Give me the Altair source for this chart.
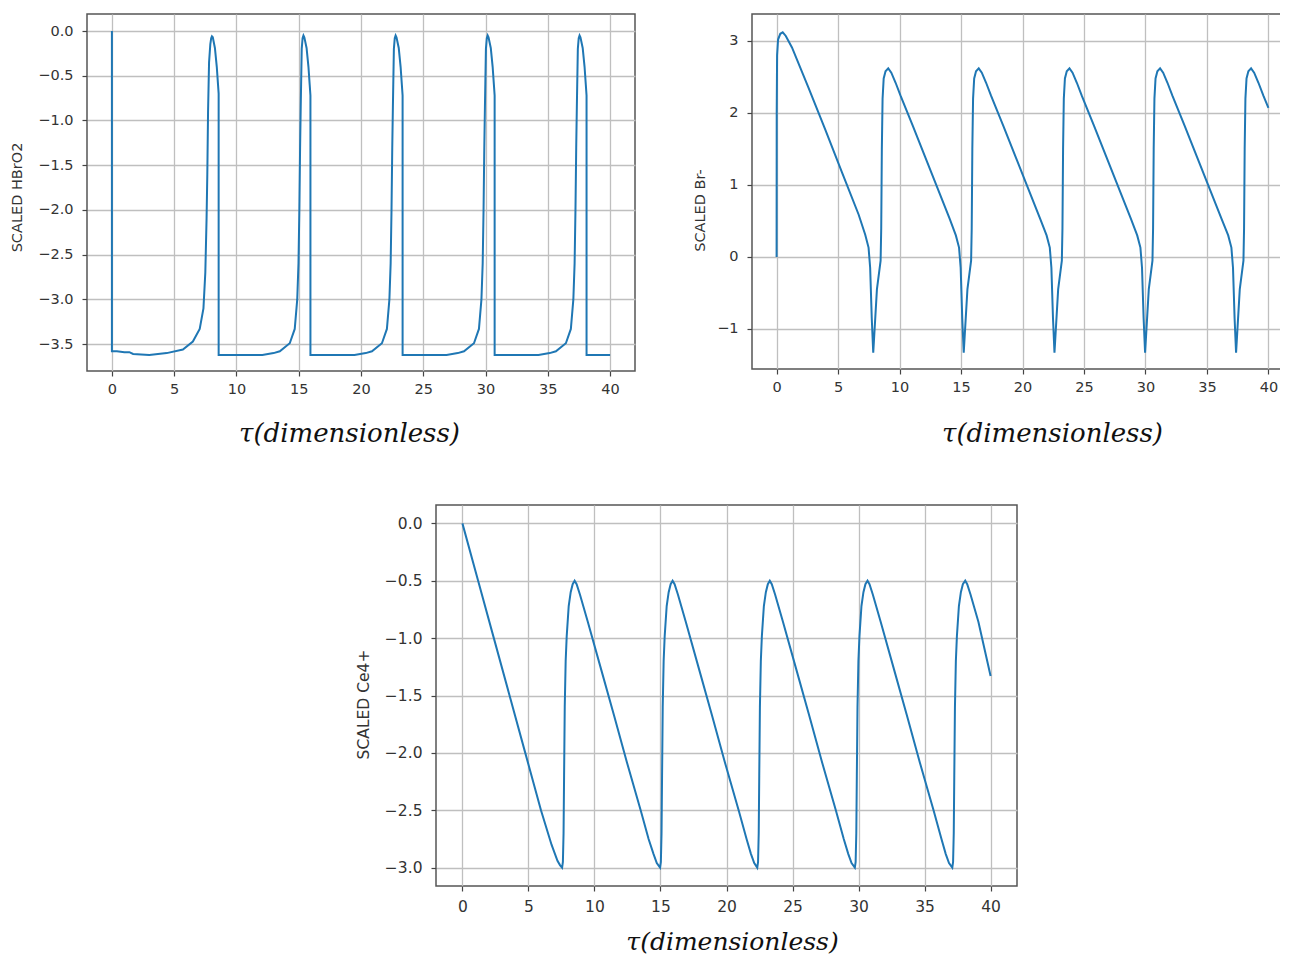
import altair as alt
import pandas as pd

# ---------------- data ----------------
hbro2_t = [
    0.0, 0.0, 0.4, 1.0, 1.4, 1.7, 3.0, 4.4, 5.7, 6.5, 7.05, 7.35, 7.5, 7.6, 7.66, 7.72, 7.8, 7.9, 7.97, 8.03, 8.1, 8.27, 8.42, 8.52, 8.57, 8.57,
    12.08, 12.98, 13.48, 14.28, 14.68, 14.88, 14.98, 15.05, 15.11, 15.16, 15.24, 15.31, 15.38, 15.45, 15.63, 15.78, 15.88, 15.94, 15.94,
    19.48, 20.38, 20.88, 21.68, 22.08, 22.28, 22.38, 22.45, 22.51, 22.56, 22.64, 22.71, 22.78, 22.85, 23.03, 23.18, 23.28, 23.34, 23.34,
    26.87, 27.77, 28.27, 29.07, 29.47, 29.67, 29.77, 29.84, 29.9, 29.95, 30.03, 30.1, 30.17, 30.24, 30.42, 30.57, 30.67, 30.73, 30.73,
    34.25, 35.15, 35.65, 36.45, 36.85, 37.05, 37.15, 37.22, 37.28, 37.33, 37.41, 37.48, 37.55, 37.62, 37.8, 37.95, 38.05, 38.11, 38.11,
    40.0,
]
hbro2_v = [
    0.0, -3.58, -3.58, -3.59, -3.59, -3.61, -3.62, -3.60, -3.56, -3.47, -3.33, -3.1, -2.7, -2.1, -1.6, -0.9, -0.35, -0.15, -0.08, -0.06, -0.07, -0.19, -0.4, -0.6, -0.7, -3.62,
    -3.62, -3.60, -3.58, -3.49, -3.33, -3.0, -2.6, -2.0, -1.3, -0.85, -0.2, -0.08, -0.05, -0.07, -0.19, -0.4, -0.6, -0.72, -3.62,
    -3.62, -3.60, -3.58, -3.49, -3.33, -3.0, -2.6, -2.0, -1.3, -0.85, -0.2, -0.08, -0.05, -0.07, -0.19, -0.4, -0.6, -0.72, -3.62,
    -3.62, -3.60, -3.58, -3.49, -3.33, -3.0, -2.6, -2.0, -1.3, -0.85, -0.2, -0.08, -0.05, -0.07, -0.19, -0.4, -0.6, -0.72, -3.62,
    -3.62, -3.60, -3.58, -3.49, -3.33, -3.0, -2.6, -2.0, -1.3, -0.85, -0.2, -0.08, -0.05, -0.07, -0.19, -0.4, -0.6, -0.72, -3.62,
    -3.62,
]

br_t = [
    0.0, 0.01, 0.04, 0.12, 0.3, 0.5, 0.75, 1.25, 2.6, 3.96, 5.31, 6.67, 7.21, 7.48, 7.61, 7.74, 7.86,
    8.16, 8.46, 8.51, 8.56, 8.62, 8.71, 8.86, 9.08, 9.33, 9.68, 10.08, 11.08, 12.08, 13.08, 14.08, 14.58, 14.84, 14.97, 15.1, 15.22,
    15.52, 15.82, 15.87, 15.92, 15.98, 16.07, 16.22, 16.44, 16.69, 17.04, 17.44, 18.44, 19.44, 20.44, 21.44, 21.96, 22.22, 22.35, 22.48, 22.6,
    22.9, 23.2, 23.25, 23.3, 23.36, 23.45, 23.6, 23.82, 24.07, 24.42, 24.82, 25.82, 26.82, 27.82, 28.82, 29.33, 29.59, 29.72, 29.85, 29.97,
    30.27, 30.57, 30.62, 30.67, 30.73, 30.82, 30.97, 31.19, 31.44, 31.79, 32.19, 33.19, 34.19, 35.19, 36.19, 36.73, 36.99, 37.12, 37.25, 37.37,
    37.67, 37.97, 38.02, 38.07, 38.13, 38.22, 38.37, 38.59, 38.84, 39.19, 39.59, 40.0,
]
br_v = [
    0.0, 2.0, 2.8, 3.02, 3.1, 3.12, 3.07, 2.91, 2.35, 1.77, 1.18, 0.59, 0.31, 0.13, -0.15, -0.85, -1.33,
    -0.45, -0.05, 0.4, 1.5, 2.2, 2.48, 2.58, 2.62, 2.56, 2.42, 2.24, 1.82, 1.39, 0.96, 0.53, 0.3, 0.13, -0.15, -0.85, -1.33,
    -0.45, -0.05, 0.4, 1.5, 2.2, 2.48, 2.58, 2.62, 2.56, 2.42, 2.24, 1.82, 1.39, 0.96, 0.53, 0.3, 0.13, -0.15, -0.85, -1.33,
    -0.45, -0.05, 0.4, 1.5, 2.2, 2.48, 2.58, 2.62, 2.56, 2.42, 2.24, 1.82, 1.39, 0.96, 0.53, 0.3, 0.13, -0.15, -0.85, -1.33,
    -0.45, -0.05, 0.4, 1.5, 2.2, 2.48, 2.58, 2.62, 2.56, 2.42, 2.24, 1.82, 1.39, 0.96, 0.53, 0.3, 0.13, -0.15, -0.85, -1.33,
    -0.45, -0.05, 0.4, 1.5, 2.2, 2.48, 2.58, 2.62, 2.56, 2.42, 2.24, 2.07,
]

ce_t = [
    0.0, 1.19, 2.38, 3.57, 4.76, 5.95, 6.75, 7.2, 7.4, 7.55,
    7.61, 7.66, 7.7, 7.75, 7.82, 7.9, 8.05, 8.2, 8.35, 8.5,
    8.65, 8.9, 9.5, 10.5, 11.5, 12.5, 13.5, 14.1, 14.47, 14.72, 14.97,
    15.03, 15.08, 15.12, 15.17, 15.24, 15.32, 15.47, 15.62, 15.77, 15.92,
    16.07, 16.32, 16.92, 17.92, 18.92, 19.92, 20.92, 21.52, 21.85, 22.1, 22.33,
    22.39, 22.44, 22.48, 22.53, 22.6, 22.68, 22.83, 22.98, 23.13, 23.28,
    23.43, 23.68, 24.28, 25.28, 26.28, 27.28, 28.28, 28.88, 29.22, 29.47, 29.72,
    29.78, 29.83, 29.87, 29.92, 29.99, 30.07, 30.22, 30.37, 30.52, 30.68,
    30.83, 31.08, 31.68, 32.68, 33.68, 34.68, 35.68, 36.28, 36.6, 36.85, 37.1,
    37.16, 37.21, 37.25, 37.3, 37.37, 37.45, 37.6, 37.75, 37.9, 38.08,
    38.23, 38.48, 39.08, 40.0,
]
ce_v = [
    0.0, -0.5, -1.0, -1.5, -2.0, -2.5, -2.8, -2.94, -2.98, -3.0,
    -2.95, -2.7, -2.2, -1.6, -1.2, -0.98, -0.72, -0.6, -0.53, -0.5,
    -0.53, -0.62, -0.86, -1.27, -1.68, -2.1, -2.5, -2.75, -2.88, -2.96, -3.0,
    -2.95, -2.7, -2.2, -1.6, -1.2, -0.98, -0.72, -0.6, -0.53, -0.5,
    -0.53, -0.62, -0.86, -1.27, -1.68, -2.1, -2.5, -2.75, -2.88, -2.96, -3.0,
    -2.95, -2.7, -2.2, -1.6, -1.2, -0.98, -0.72, -0.6, -0.53, -0.5,
    -0.53, -0.62, -0.86, -1.27, -1.68, -2.1, -2.5, -2.75, -2.88, -2.96, -3.0,
    -2.95, -2.7, -2.2, -1.6, -1.2, -0.98, -0.72, -0.6, -0.53, -0.5,
    -0.53, -0.62, -0.86, -1.27, -1.68, -2.1, -2.5, -2.75, -2.88, -2.96, -3.0,
    -2.95, -2.7, -2.2, -1.6, -1.2, -0.98, -0.72, -0.6, -0.53, -0.5,
    -0.53, -0.62, -0.86, -1.33,
]

x_ticks = [0, 5, 10, 15, 20, 25, 30, 35, 40]
hbro2_ticks = [0.0, -0.5, -1.0, -1.5, -2.0, -2.5, -3.0, -3.5]
br_ticks = [-1, 0, 1, 2, 3]
ce_ticks = [0.0, -0.5, -1.0, -1.5, -2.0, -2.5, -3.0]

X_TITLE = "τ(dimensionless)"
Y_TITLES = ["SCALED HBrO2", "SCALED Br-", "SCALED Ce4+"]
LINE_COLOR = "#1f77b4"


def panel(t, v, ytitle, xdom, ydom, yticks, yfmt, w, h,
          ytx, yty, xtx, xty, xtfs, fs, xlp, ylp):
    df = pd.DataFrame({"t": t, "v": v, "i": list(range(len(t)))})
    common = dict(
        grid=True, gridColor="#bfbfbf", gridWidth=1.3,
        domain=False, ticks=True, tickColor="#444444", tickSize=5, tickWidth=1.2,
        labelFont="DejaVu Sans", labelFontSize=fs, labelColor="#333333",
    )
    xaxis = alt.Axis(
        values=x_ticks, format="d", title=X_TITLE,
        titleFont="DejaVu Serif", titleFontStyle="italic", titleFontWeight="normal",
        titleFontSize=xtfs, titleColor="#111111", titleX=xtx, titleY=xty,
        titleAlign="center", titleBaseline="middle", labelPadding=xlp, **common,
    )
    yaxis = alt.Axis(
        values=yticks, format=yfmt, title=ytitle,
        titleFont="DejaVu Sans", titleFontWeight="normal", titleFontSize=fs,
        titleColor="#333333", titleX=ytx, titleY=yty, titleAngle=270,
        titleAlign="center", titleBaseline="middle", labelPadding=ylp, **common,
    )
    return alt.Chart(df).mark_line(color=LINE_COLOR, strokeWidth=2, clip=True).encode(
        x=alt.X("t:Q", scale=alt.Scale(domain=xdom, nice=False, zero=False), axis=xaxis),
        y=alt.Y("v:Q", scale=alt.Scale(domain=ydom, nice=False, zero=False), axis=yaxis),
        order=alt.Order("i:Q"),
    ).properties(width=w, height=h)


p1 = panel(hbro2_t, hbro2_v, Y_TITLES[0], [-2, 42], [-3.80, 0.19], hbro2_ticks, ".1f",
           548, 357, -70, 183, 262, 62, 26, 14.5, 6, 9)
p2 = panel(br_t, br_v, Y_TITLES[1], [-2, 42], [-1.556, 3.375], br_ticks, "d",
           541, 355, -52, 196, 300, 64, 26, 14.5, 6, 9)
p3 = panel(ce_t, ce_v, Y_TITLES[2], [-2, 42], [-3.16, 0.16], ce_ticks, ".1f",
           581, 381, -73, 199, 296, 55, 25, 15.5, 8, 9)

spacer = alt.Chart(pd.DataFrame({"a": [0]})).mark_point(opacity=0).encode(
    x=alt.value(0), y=alt.value(0)
).properties(width=232, height=10, view=alt.ViewBackground(stroke="transparent"))

row1 = alt.hconcat(p1, p2, spacing=117, bounds="flush")
row2 = alt.hconcat(spacer, p3, spacing=117, bounds="flush")

chart = alt.vconcat(row1, row2, spacing=54).properties(
    padding={"left": 0, "top": 5, "right": -14, "bottom": 0},
).configure_view(
    stroke="#555555", strokeWidth=1.5
)

chart.save("out.html", embed_options={"renderer": "svg", "actions": False})
